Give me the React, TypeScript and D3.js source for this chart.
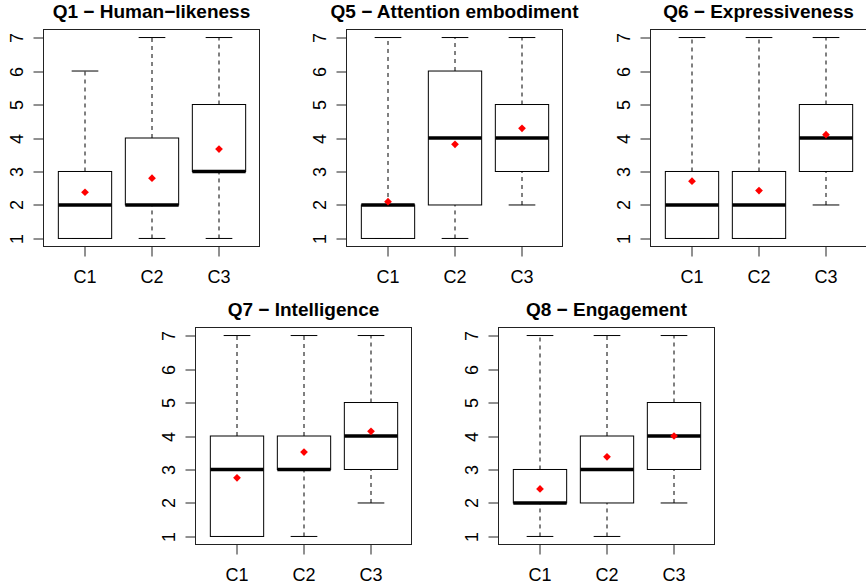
import * as d3 from "d3";

const WIDTH = 866;
const HEIGHT = 587;

const TITLES = [
  "Q1 − Human−likeness",
  "Q5 − Attention embodiment",
  "Q6 − Expressiveness",
  "Q7 − Intelligence",
  "Q8 − Engagement",
];
const CONDITIONS = ["C1", "C2", "C3"];
const Y_TICKS = [1, 2, 3, 4, 5, 6, 7];

// five-number summaries per question, one entry per condition
const WHISKER_LO = [
  [1, 1, 1],
  [1, 1, 2],
  [1, 1, 2],
  [1, 1, 2],
  [1, 1, 2],
];
const BOX_LO = [
  [1, 2, 3],
  [1, 2, 3],
  [1, 1, 3],
  [1, 3, 3],
  [2, 2, 3],
];
const MEDIANS = [
  [2, 2, 3],
  [2, 4, 4],
  [2, 2, 4],
  [3, 3, 4],
  [2, 3, 4],
];
const BOX_HI = [
  [3, 4, 5],
  [2, 6, 5],
  [3, 3, 5],
  [4, 4, 5],
  [3, 4, 5],
];
const WHISKER_HI = [
  [6, 7, 7],
  [7, 7, 7],
  [7, 7, 7],
  [7, 7, 7],
  [7, 7, 7],
];
const MEANS = [
  [2.38, 2.8, 3.67],
  [2.1, 3.81, 4.29],
  [2.71, 2.43, 4.1],
  [2.75, 3.52, 4.14],
  [2.42, 3.38, 4.0],
];

// frame placement of each panel (left, top)
const PANEL_POS: [number, number][] = [
  [43.5, 29.5],
  [346.5, 29.5],
  [650.5, 29.5],
  [195.5, 327.5],
  [498.5, 327.5],
];
const FRAME_W = 216;
const FRAME_H = 217;

const FONT = "'Liberation Sans', Arial, Helvetica, sans-serif";

function Panel({ idx }: { idx: number }) {
  const [left, top] = PANEL_POS[idx];
  // R-style 4% axis extension
  const x = d3.scaleLinear().domain([0.38, 3.62]).range([0, FRAME_W]);
  const y = d3.scaleLinear().domain([0.76, 7.24]).range([FRAME_H, 0]);
  const boxHalf = x(1.4) - x(1);
  const capHalf = boxHalf * 0.5;
  const diamond = d3.symbol(d3.symbolSquare, 30)()!;

  return (
    <g transform={`translate(${left},${top})`}>
      <text
        x={FRAME_W / 2}
        y={-11.5}
        textAnchor="middle"
        fontFamily={FONT}
        fontWeight="bold"
        fontSize={19}
      >
        {TITLES[idx]}
      </text>

      {CONDITIONS.map((c, i) => {
        const cx = Math.round(x(i + 1)) + 0.5;
        const yl = y(WHISKER_LO[idx][i]);
        const yh = y(WHISKER_HI[idx][i]);
        const b0 = y(BOX_LO[idx][i]);
        const b1 = y(BOX_HI[idx][i]);
        const m = y(MEDIANS[idx][i]);
        return (
          <g key={c}>
            <line x1={cx} x2={cx} y1={b1} y2={yh} stroke="#000" strokeDasharray="4,4" />
            <line x1={cx} x2={cx} y1={yl} y2={b0} stroke="#000" strokeDasharray="4,4" />
            <line x1={cx - capHalf} x2={cx + capHalf} y1={yh} y2={yh} stroke="#000" />
            <line x1={cx - capHalf} x2={cx + capHalf} y1={yl} y2={yl} stroke="#000" />
            <rect
              x={cx - boxHalf}
              y={Math.min(b0, b1)}
              width={boxHalf * 2}
              height={Math.abs(b0 - b1)}
              fill="white"
              stroke="#000"
            />
            <line
              x1={cx - boxHalf}
              x2={cx + boxHalf}
              y1={m}
              y2={m}
              stroke="#000"
              strokeWidth={3.5}
            />
            <path
              d={diamond}
              transform={`translate(${cx},${y(MEANS[idx][i])}) rotate(45)`}
              fill="#ff0000"
            />
          </g>
        );
      })}

      <rect x={0} y={0} width={FRAME_W} height={FRAME_H} fill="none" stroke="#222" />

      {/* y axis */}
      <line x1={0} x2={0} y1={y(1)} y2={y(7)} stroke="#222" />
      {Y_TICKS.map((t) => (
        <g key={t} transform={`translate(0,${Math.round(y(t)) + 0.5})`}>
          <line x1={-10} x2={0} stroke="#222" />
          <text
            transform="translate(-21,0) rotate(-90)"
            textAnchor="middle"
            fontFamily={FONT}
            fontSize={18}
            fill="#000"
          >
            {t}
          </text>
        </g>
      ))}

      {/* x axis */}
      {CONDITIONS.map((c, i) => {
        const cx = Math.round(x(i + 1)) + 0.5;
        return (
          <g key={c} transform={`translate(${cx},${FRAME_H})`}>
            <line y1={0} y2={10} stroke="#222" />
            <text y={36} textAnchor="middle" fontFamily={FONT} fontSize={18}>
              {c}
            </text>
          </g>
        );
      })}
    </g>
  );
}

export default function App() {
  return (
    <svg
      width={WIDTH}
      height={HEIGHT}
      style={{ position: "absolute", left: 0, top: 0, background: "white" }}
    >
      <rect width={WIDTH} height={HEIGHT} fill="white" />
      {TITLES.map((_, i) => (
        <Panel key={i} idx={i} />
      ))}
    </svg>
  );
}
